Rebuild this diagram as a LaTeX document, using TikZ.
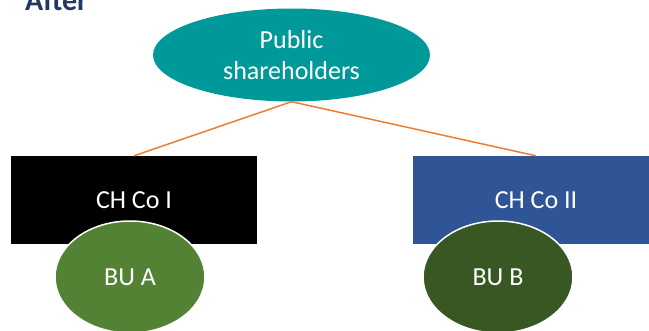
\documentclass[tikz,border=0pt]{standalone}
\usepackage{fontspec}
\setmainfont{Carlito}
\usetikzlibrary{shapes.geometric}
\definecolor{tealfill}{RGB}{0,153,153}
\definecolor{bluefill}{RGB}{47,85,151}
\definecolor{greenA}{RGB}{84,130,53}
\definecolor{greenB}{RGB}{56,87,35}
\definecolor{linkorange}{RGB}{237,125,49}
\definecolor{titleblue}{RGB}{31,56,100}
\begin{document}
\begin{tikzpicture}[x=1pt, y=-1pt,
    holder/.style={ellipse, fill=tealfill, text=white, inner sep=0pt,
        minimum width=277pt, minimum height=93pt, align=center,
        font=\fontsize{26}{31}\selectfont},
    chco/.style={rectangle, text=white, inner sep=0pt,
        minimum width=246pt, minimum height=88pt,
        font=\fontsize{26}{30}\selectfont},
    bu/.style={ellipse, draw=white, line width=1.5pt, text=white, inner sep=0pt,
        minimum width=150pt, minimum height=112pt,
        font=\fontsize{26}{30}\selectfont},
    link/.style={linkorange, line width=1.5pt}]
    \clip (0, 0) rectangle (649, 330);
    \useasboundingbox (0, 0) rectangle (649, 330);

    \node[anchor=base west, text=titleblue, inner sep=0pt,
        font=\fontsize{30}{30}\selectfont\bfseries] (title) at (25, 10) {After};

    \node[holder] (public) at (291.5, 55) {Public\\shareholders};

    \node[chco, fill=black] (chco1) at (134, 200) {CH Co I};
    \node[chco, fill=bluefill] (chco2) at (536, 200) {CH Co II};

    \draw[link] (public.south) to (chco1.north);
    \draw[link] (public.south) to (chco2.north);

    \node[bu, fill=greenA] (buA) at (130, 277) {BU A};
    \node[bu, fill=greenB] (buB) at (498, 277) {BU B};
\end{tikzpicture}
\end{document}
